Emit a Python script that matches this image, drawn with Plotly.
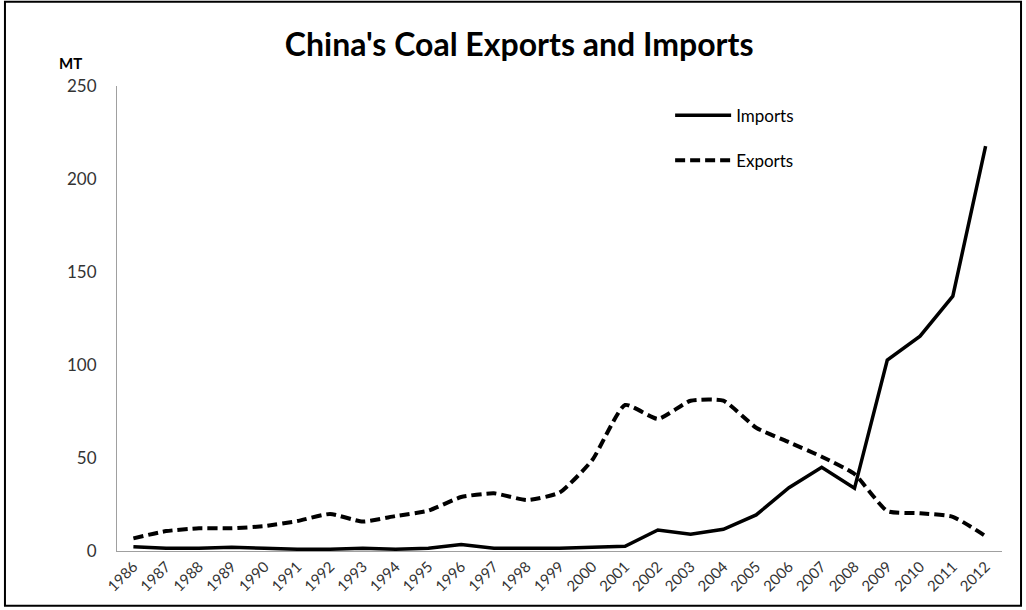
import plotly.graph_objects as go

years = [str(y) for y in range(1986, 2013)]
imports_mt = [2.3, 1.5, 1.5, 2.0, 1.5, 1.0, 1.0, 1.5, 1.0, 1.5, 3.5, 1.5, 1.5, 1.5, 2.0, 2.5,
              11.3, 9.0, 11.7, 19.4, 34.0, 45.0, 33.7, 102.7, 115.5, 137.0, 217.7]
exports_mt = [6.8, 10.7, 12.2, 12.2, 13.4, 16.1, 19.9, 15.8, 18.8, 21.7, 29.0, 31.0, 27.4, 31.4,
              48.9, 78.5, 71.0, 80.8, 80.8, 66.3, 58.5, 50.7, 41.4, 21.5, 20.3, 18.4, 8.0]
y_ticks = [0, 50, 100, 150, 200, 250]

font_family = "Lato, 'Open Sans', sans-serif"

fig = go.Figure()
fig.add_trace(go.Scatter(x=years, y=imports_mt, name="Imports", mode="lines", legendgroup="imp",
                         line=dict(color="black", width=3.5)))
fig.add_trace(go.Scatter(x=years, y=exports_mt, name="Exports", mode="lines", legendgroup="exp",
                         line=dict(color="black", width=4, dash="10px,5px",
                                   shape="spline", smoothing=0.5)))

fig.update_layout(
    width=1026, height=610,
    margin=dict(l=117, r=24, t=86, b=59),
    paper_bgcolor="white", plot_bgcolor="white",
    font=dict(family=font_family, color="#333333"),
    title=dict(text="<b>China's Coal Exports and Imports</b>", x=0.506, xanchor="center",
               y=0.927, yanchor="middle", font=dict(size=32, color="black", family=font_family)),
    showlegend=True,
    legend=dict(x=0.625, y=0.975, xanchor="left", yanchor="top", bgcolor="rgba(0,0,0,0)",
                font=dict(size=17, color="black"), traceorder="grouped", tracegroupgap=20,
                itemwidth=56),
    xaxis=dict(type="category", showgrid=False, showline=True, linecolor="#a0a0a0", linewidth=1,
               ticks="", tickangle=-45, tickfont=dict(size=15, color="#333333"),
               range=[-0.5, len(years) - 0.5]),
    yaxis=dict(range=[0, 250], tickvals=y_ticks, showgrid=False, showline=True, linecolor="#a0a0a0",
               linewidth=1, ticks="", tickfont=dict(size=17, color="#333333"), zeroline=False,
               ticklabelstandoff=16),
    shapes=[dict(type="rect", xref="paper", yref="paper", x0=-0.1266, x1=1.0215, y0=-0.118, y1=1.181,
                 line=dict(color="black", width=2))],
    annotations=[dict(text="<b>MT</b>", xref="paper", yref="paper", x=-0.053, y=1.05,
                      xanchor="center", yanchor="middle", showarrow=False,
                      font=dict(size=15, color="black"))],
)

fig.write_html("out.html")
